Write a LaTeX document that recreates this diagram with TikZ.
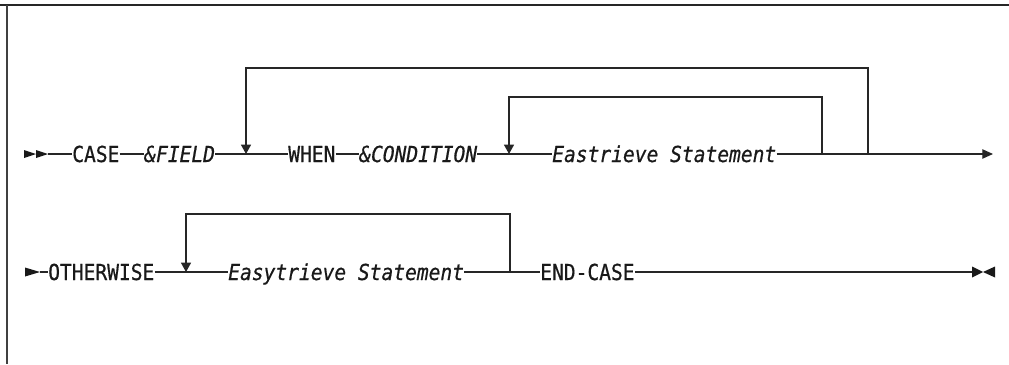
\documentclass[tikz,border=0pt]{standalone}
\usepackage{fontspec}
\setmonofont[FakeStretch=0.89,FakeBold=0.6]{DejaVu Sans Mono}
\usetikzlibrary{arrows.meta}

\begin{document}
\begin{tikzpicture}[x=0.75pt,y=-0.75pt,>=Triangle,
  kw/.style={inner sep=0pt,anchor=base west,text=black!90,
    font=\fontsize{16.5}{18}\selectfont\ttfamily},
  var/.style={kw,font=\fontsize{16.5}{18}\selectfont\ttfamily\itshape},
  rail/.style={draw=black!85,line width=0.85pt},
  loopdown/.style={rail,-{Triangle[width=7.5pt,length=7pt]}},
  tipend/.style={rail,-{Triangle[width=7pt,length=8pt]}}]
  \useasboundingbox (0,0) rectangle (1009,364);
  % frame: top and left edge only
  \draw[black!85,line width=1.5pt] (0,4.5) -- (1009,4.5);
  \draw[black!75,line width=1.3pt] (7,4.5) -- (7,364);

  % row 1
  \coordinate (r1) at (0,154);
  \fill[black!90] (24,150) -- (36,154) -- (24,158) -- cycle;
  \fill[black!90] (36,150) -- (48,154) -- (36,158) -- cycle;
  \coordinate (s1) at (48,154);
  \node[kw]  (CASE)  at (72,162)  {CASE};
  \node[var] (FIELD) at (144,162) {\&FIELD};
  \node[kw]  (WHEN)  at (288,162) {WHEN};
  \node[var] (COND)  at (359,162) {\&CONDITION};
  \node[var] (EST)   at (552,162) {Eastrieve Statement};
  \coordinate (e1) at (993,154);

  \draw[rail] (s1) -- (CASE.west |- r1);
  \draw[rail] (CASE.east |- r1) -- (FIELD.west |- r1);
  \draw[rail] (FIELD.east |- r1) -- (WHEN.west |- r1);
  \draw[rail] (WHEN.east |- r1) -- (COND.west |- r1);
  \draw[rail] (COND.east |- r1) -- (EST.west |- r1);
  \draw[tipend] (EST.east |- r1) -- (e1);

  % repeat loops of row 1
  \coordinate (outR) at (868,154);
  \coordinate (outL) at (246,154);
  \coordinate (inR)  at (822,154);
  \coordinate (inL)  at (509,154);
  \draw[loopdown] (outR) -- ++(0,-86) -| (outL);
  \draw[loopdown] (inR) -- ++(0,-57) -| (inL);

  % row 2
  \coordinate (r2) at (0,272);
  \fill[black!90] (25,267.5) -- (40,272) -- (25,276.5) -- cycle;
  \coordinate (s2) at (40,272);
  \node[kw]  (OTHER) at (48,280)  {OTHERWISE};
  \node[var] (EASY)  at (228,280) {Easytrieve Statement};
  \node[kw]  (ENDC)  at (540,280) {END-CASE};
  \coordinate (e2) at (972,272);

  \draw[rail] (s2) -- (OTHER.west |- r2);
  \draw[rail] (OTHER.east |- r2) -- (EASY.west |- r2);
  \draw[rail] (EASY.east |- r2) -- (ENDC.west |- r2);
  \draw[rail] (ENDC.east |- r2) -- (e2);
  \fill[black!90] (972,266.5) -- (983,272) -- (972,277.5) -- cycle;
  \fill[black!90] (995,266.5) -- (983,272) -- (995,277.5) -- cycle;

  % repeat loop of row 2
  \coordinate (lpR) at (510,272);
  \coordinate (lpL) at (186,272);
  \draw[loopdown] (lpR) -- ++(0,-58) -| (lpL);
\end{tikzpicture}
\end{document}
